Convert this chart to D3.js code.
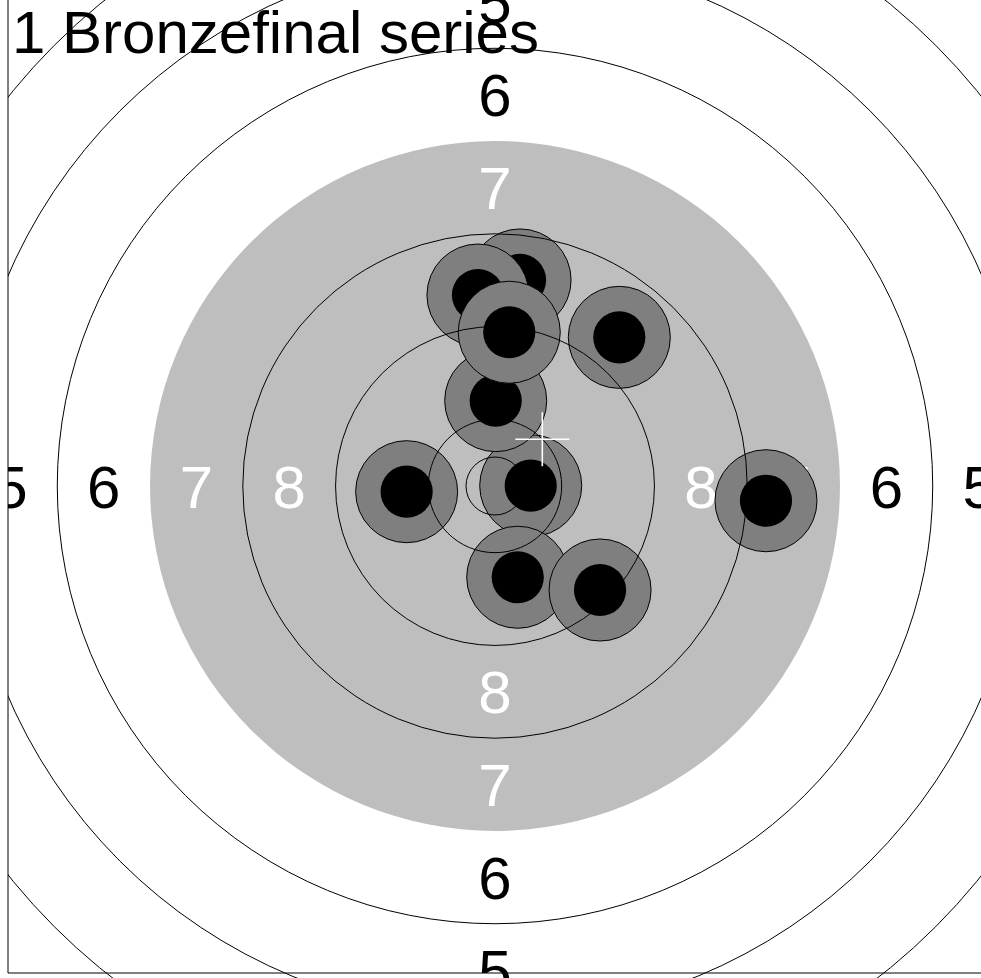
<!DOCTYPE html>
<html>
<head>
<meta charset="utf-8">
<script src="https://cdn.jsdelivr.net/npm/d3@7"></script>
<style>
  body { margin: 0; background: #fff; }
  svg { display: block; font-family: "Liberation Sans", Arial, sans-serif; }
</style>
</head>
<body>
<svg width="981" height="978"></svg>
<script>
// target geometry (mm), ISSF air pistol
var ringLines = [2.5, 5.75, 13.75, 21.75, 37.75, 45.75, 53.75, 61.75, 69.75, 77.75];
var blackRadius = 29.75;
var ringNumbers = [5, 6, 7, 8];
var labelRadius = [41.75, 33.75, 25.75, 17.75];

// shots (mm from centre), in drawing order
var shotX = [3.08, 0.06, 2.16, -1.47, 1.23, 10.72, -7.62, 1.96, 9.06, 23.37];
var shotY = [0.03, 7.36, 17.77, 16.47, 13.26, 12.82, -0.49, -7.87, -8.97, -1.27];
var groupCenter = [4.08, 4.03];

var title = "1 Bronzefinal series";

var svg = d3.select("svg"),
    margin = {left: 8, bottom: 5},
    width = 974,
    height = 974;

var x = d3.scaleLinear().domain([-42, 42]).range([margin.left, margin.left + width]);
var y = d3.scaleLinear().domain([-42, 42]).range([978 - margin.bottom, 978 - margin.bottom - height]);
var mm = function(d) { return x(d) - x(0); };

svg.append("clipPath").attr("id", "clip")
  .append("rect")
    .attr("x", margin.left).attr("y", -50)
    .attr("width", 1100).attr("height", 1100);

var g = svg.append("g").attr("clip-path", "url(#clip)");

// black area
g.append("circle")
  .attr("cx", x(0)).attr("cy", y(0))
  .attr("r", mm(blackRadius))
  .attr("fill", "#bebebe");

// ring numbers in 4 directions
var dirs = [[1, 0], [-1, 0], [0, 1], [0, -1]];
ringNumbers.forEach(function(n, i) {
  dirs.forEach(function(d) {
    g.append("text")
      .attr("x", x(d[0] * labelRadius[i]))
      .attr("y", y(d[1] * labelRadius[i]) + 21.5)
      .attr("text-anchor", "middle")
      .attr("font-size", 60)
      .attr("fill", n >= 7 ? "white" : "black")
      .text(n);
  });
});

// shots
shotX.forEach(function(sx, i) {
  g.append("circle")
    .attr("cx", x(sx)).attr("cy", y(shotY[i]))
    .attr("r", mm(4.4))
    .attr("fill", "#7f7f7f")
    .attr("stroke", "black")
    .attr("stroke-width", 1);
  g.append("circle")
    .attr("cx", x(sx)).attr("cy", y(shotY[i]))
    .attr("r", mm(2.25))
    .attr("fill", "black");
});

// ring lines
g.selectAll(".ring")
  .data(ringLines)
  .enter()
  .append("circle")
    .attr("class", "ring")
    .attr("cx", x(0)).attr("cy", y(0))
    .attr("r", function(d) { return mm(d); })
    .attr("fill", "none")
    .attr("stroke", "black")
    .attr("stroke-width", 1);

// group centre
var cx = x(groupCenter[0]), cy = y(groupCenter[1]);
g.append("line").attr("x1", cx - 27).attr("x2", cx + 27)
  .attr("y1", cy).attr("y2", cy).attr("stroke", "white").attr("stroke-width", 1.6);
g.append("line").attr("x1", cx).attr("x2", cx)
  .attr("y1", cy - 27).attr("y2", cy + 27).attr("stroke", "white").attr("stroke-width", 1.6);

// axes lines (left and bottom)
svg.append("line").attr("x1", margin.left).attr("x2", margin.left)
  .attr("y1", 0).attr("y2", y(-42)).attr("stroke", "black");
svg.append("line").attr("x1", margin.left).attr("x2", 981)
  .attr("y1", y(-42)).attr("y2", y(-42)).attr("stroke", "black");

svg.append("text")
  .attr("x", 12).attr("y", 53)
  .attr("font-size", 60)
  .text(title);
</script>
</body>
</html>
